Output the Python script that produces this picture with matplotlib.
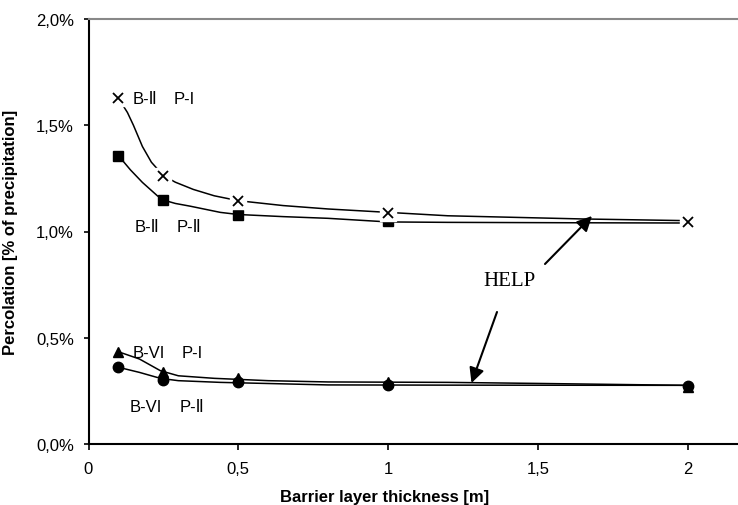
import matplotlib
matplotlib.use("Agg")
import matplotlib.pyplot as plt

plt.rcParams['font.family'] = ['Liberation Sans', 'DejaVu Sans']

# marker data (x = barrier thickness [m], y = percolation [% of precipitation])
x_pts = [0.1, 0.25, 0.5, 1.0, 2.0]
bii_pi = [1.627, 1.263, 1.145, 1.087, 1.043]
bii_pii = [1.357, 1.148, 1.078, 1.048, 1.040]
bvi_pi = [0.434, 0.340, 0.309, 0.292, 0.270]
bvi_pii = [0.361, 0.303, 0.290, 0.278, 0.275]

# HELP curves
help_bii_pi_x = [0.1, 0.13, 0.15, 0.18, 0.21, 0.25, 0.29, 0.35, 0.42, 0.5, 0.65, 0.8, 1.0, 1.2, 1.65, 2.0]
help_bii_pi_y = [1.627, 1.56, 1.50, 1.40, 1.326, 1.263, 1.232, 1.198, 1.168, 1.145, 1.122, 1.106, 1.090, 1.074, 1.059, 1.051]
help_bii_pii_x = [0.1, 0.14, 0.18, 0.23, 0.25, 0.29, 0.34, 0.44, 0.5, 0.65, 0.8, 1.0, 1.2, 1.65, 2.0]
help_bii_pii_y = [1.357, 1.29, 1.231, 1.168, 1.148, 1.132, 1.119, 1.090, 1.080, 1.070, 1.062, 1.045, 1.043, 1.041, 1.040]
help_bvi_pi_x = [0.1, 0.17, 0.24, 0.3, 0.42, 0.6, 0.8, 1.2, 1.5, 2.0]
help_bvi_pi_y = [0.434, 0.400, 0.345, 0.321, 0.309, 0.298, 0.292, 0.290, 0.285, 0.276]
help_bvi_pii_x = [0.1, 0.17, 0.24, 0.3, 0.44, 0.8, 1.2, 2.0]
help_bvi_pii_y = [0.361, 0.337, 0.309, 0.298, 0.290, 0.278, 0.277, 0.276]

xticks = [0, 0.5, 1, 1.5, 2]
xtick_labels = ["0", "0,5", "1", "1,5", "2"]
yticks = [0, 0.5, 1.0, 1.5, 2.0]
ytick_labels = ["0,0%", "0,5%", "1,0%", "1,5%", "2,0%"]

fig = plt.figure(figsize=(7.38, 5.06), dpi=100)
ax = fig.add_axes([88.5 / 738, 61 / 506, 1 - 88.5 / 738, 425 / 506])
ax.set_xlim(0, (738 - 88.5) / 299.5)
ax.set_ylim(0, 2.0)

for xs, ys in [(help_bii_pi_x, help_bii_pi_y), (help_bii_pii_x, help_bii_pii_y),
               (help_bvi_pi_x, help_bvi_pi_y), (help_bvi_pii_x, help_bvi_pii_y)]:
    ax.plot(xs, ys, color='black', lw=1.1, zorder=2)

ax.plot(x_pts, bii_pii, ls='none', marker='s', ms=7, color='black', zorder=3)
ax.plot(x_pts, bii_pi, ls='none', marker='s', ms=12, color='white', zorder=4)
ax.plot(x_pts, bii_pi, ls='none', marker='x', ms=7, mew=1.3, color='black', zorder=5)
ax.plot(x_pts, bvi_pii, ls='none', marker='o', ms=7.5, color='black', zorder=3)
ax.plot(x_pts, bvi_pi, ls='none', marker='^', ms=7.5, color='black', zorder=3)

def px(xp):
    return (xp - 88.5) / 299.5

def py(yp):
    return (445 - yp) / 212.5

lab_kw = dict(fontsize=12, va='center', ha='left')
ax.text(px(133), py(100), "B-Ⅱ", **lab_kw)
ax.text(px(174), py(100), "P-I", **lab_kw)
ax.text(px(135), py(228), "B-Ⅱ", **lab_kw)
ax.text(px(177), py(228), "P-Ⅱ", **lab_kw)
ax.text(px(133), py(354), "B-VI", **lab_kw)
ax.text(px(182), py(354), "P-I", **lab_kw)
ax.text(px(130), py(408), "B-VI", **lab_kw)
ax.text(px(180), py(408), "P-Ⅱ", **lab_kw)

ax.text(px(509), py(282), "HELP", fontsize=15, family=['Liberation Serif', 'DejaVu Serif'],
        ha='center', va='center')
arrow_kw = dict(arrowstyle='-|>,head_length=0.9,head_width=0.45', color='black', lw=1.5,
                shrinkA=0, shrinkB=0)
ax.annotate("", xy=(px(592), py(217)), xytext=(px(545), py(265)), arrowprops=arrow_kw, zorder=6)
ax.annotate("", xy=(px(471.5), py(384)), xytext=(px(497), py(313)), arrowprops=arrow_kw, zorder=6)

ax.spines['right'].set_visible(False)
ax.spines['top'].set_color('#888888')
ax.spines['top'].set_linewidth(1.5)
ax.spines['left'].set_linewidth(1.5)
ax.spines['bottom'].set_linewidth(1.5)

ax.set_xticks(xticks, xtick_labels)
ax.set_yticks(yticks, ytick_labels)
ax.tick_params(axis='x', direction='out', length=4.5, width=1.2, pad=8, labelsize=12)
ax.tick_params(axis='y', direction='out', length=3.5, width=1.2, pad=7, labelsize=12)

ax.set_xlabel("Barrier layer thickness [m]", fontsize=12, fontweight='bold')
ax.xaxis.set_label_coords((385 - 88.5) / (738 - 88.5), -0.107)
ax.set_ylabel("Percolation [% of precipitation]", fontsize=12, fontweight='bold')
ax.yaxis.set_label_coords(-(88.5 - 18) / (738 - 88.5), 0.5)

fig.savefig("out.png", dpi=100)
